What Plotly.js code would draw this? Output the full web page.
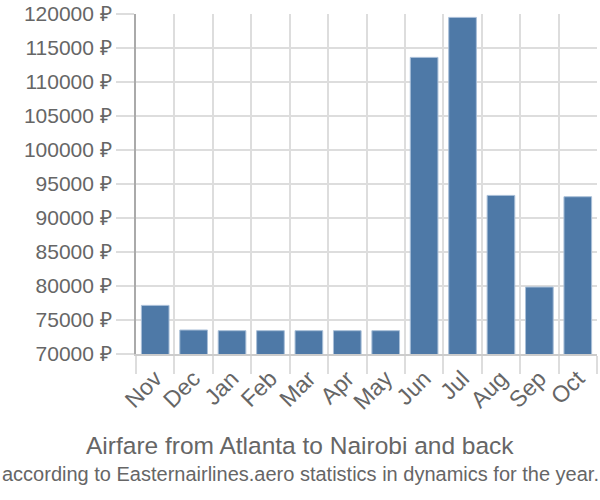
<!DOCTYPE html>
<html><head><meta charset="utf-8">
<script src="https://cdn.plot.ly/plotly-3.0.1.min.js"></script>
<style>body{margin:0;}#c{width:600px;height:500px;}</style>
</head><body><div id="c"></div>
<script>
const months = ["Nov","Dec","Jan","Feb","Mar","Apr","May","Jun","Jul","Aug","Sep","Oct"];
const prices = [77150,73530,73430,73430,73430,73430,73430,113620,119500,93320,79850,93130];
const yTicks = [70000,75000,80000,85000,90000,95000,100000,105000,110000,115000,120000];
const yTickText = yTicks.map(v => v + " ₽");
const titleText = "Airfare from Atlanta to Nairobi and back";
const subtitleText = "according to Easternairlines.aero statistics in dynamics for the year.";

const font = {family: "'Liberation Sans', Arial, sans-serif", color: "#666"};
Plotly.newPlot("c", [{
  type: "bar", x: months, y: prices,
  marker: {color: "#4e79a7", line: {color: "#a9bfd8", width: 1}},
  hoverinfo: "none"
}], {
  width: 600, height: 500,
  margin: {l: 136, r: 3, t: 14, b: 146},
  bargap: 0.28,
  paper_bgcolor: "#fff", plot_bgcolor: "#fff",
  font: Object.assign({size: 20}, font),
  xaxis: {
    type: "category", tickangle: -45, tickson: "boundaries",
    ticks: "outside", ticklen: 18, tickcolor: "#ddd", tickwidth: 2,
    showgrid: true, gridcolor: "#ddd", gridwidth: 2,
    showline: true, linecolor: "#ccc", linewidth: 2,
    tickfont: Object.assign({size: 23}, font)
  },
  yaxis: {
    range: [70000, 120000], tickvals: yTicks, ticktext: yTickText,
    ticks: "outside", ticklen: 18, tickcolor: "#ddd", tickwidth: 2,
    showgrid: true, gridcolor: "#ddd", gridwidth: 2,
    showline: true, linecolor: "#aaa", linewidth: 2, zeroline: false,
    tickfont: Object.assign({size: 21}, font)
  },
  annotations: [
    {text: titleText, xref: "paper", yref: "paper", x: 0.356, xanchor: "center",
     y: -0.27, yanchor: "middle", showarrow: false,
     font: Object.assign({size: 24.5}, font)},
    {text: subtitleText, xref: "paper", yref: "paper", x: 0.356, xanchor: "center",
     y: -0.353, yanchor: "middle", showarrow: false,
     font: Object.assign({size: 20}, font)}
  ],
  showlegend: false
}, {staticPlot: true});
</script></body></html>
